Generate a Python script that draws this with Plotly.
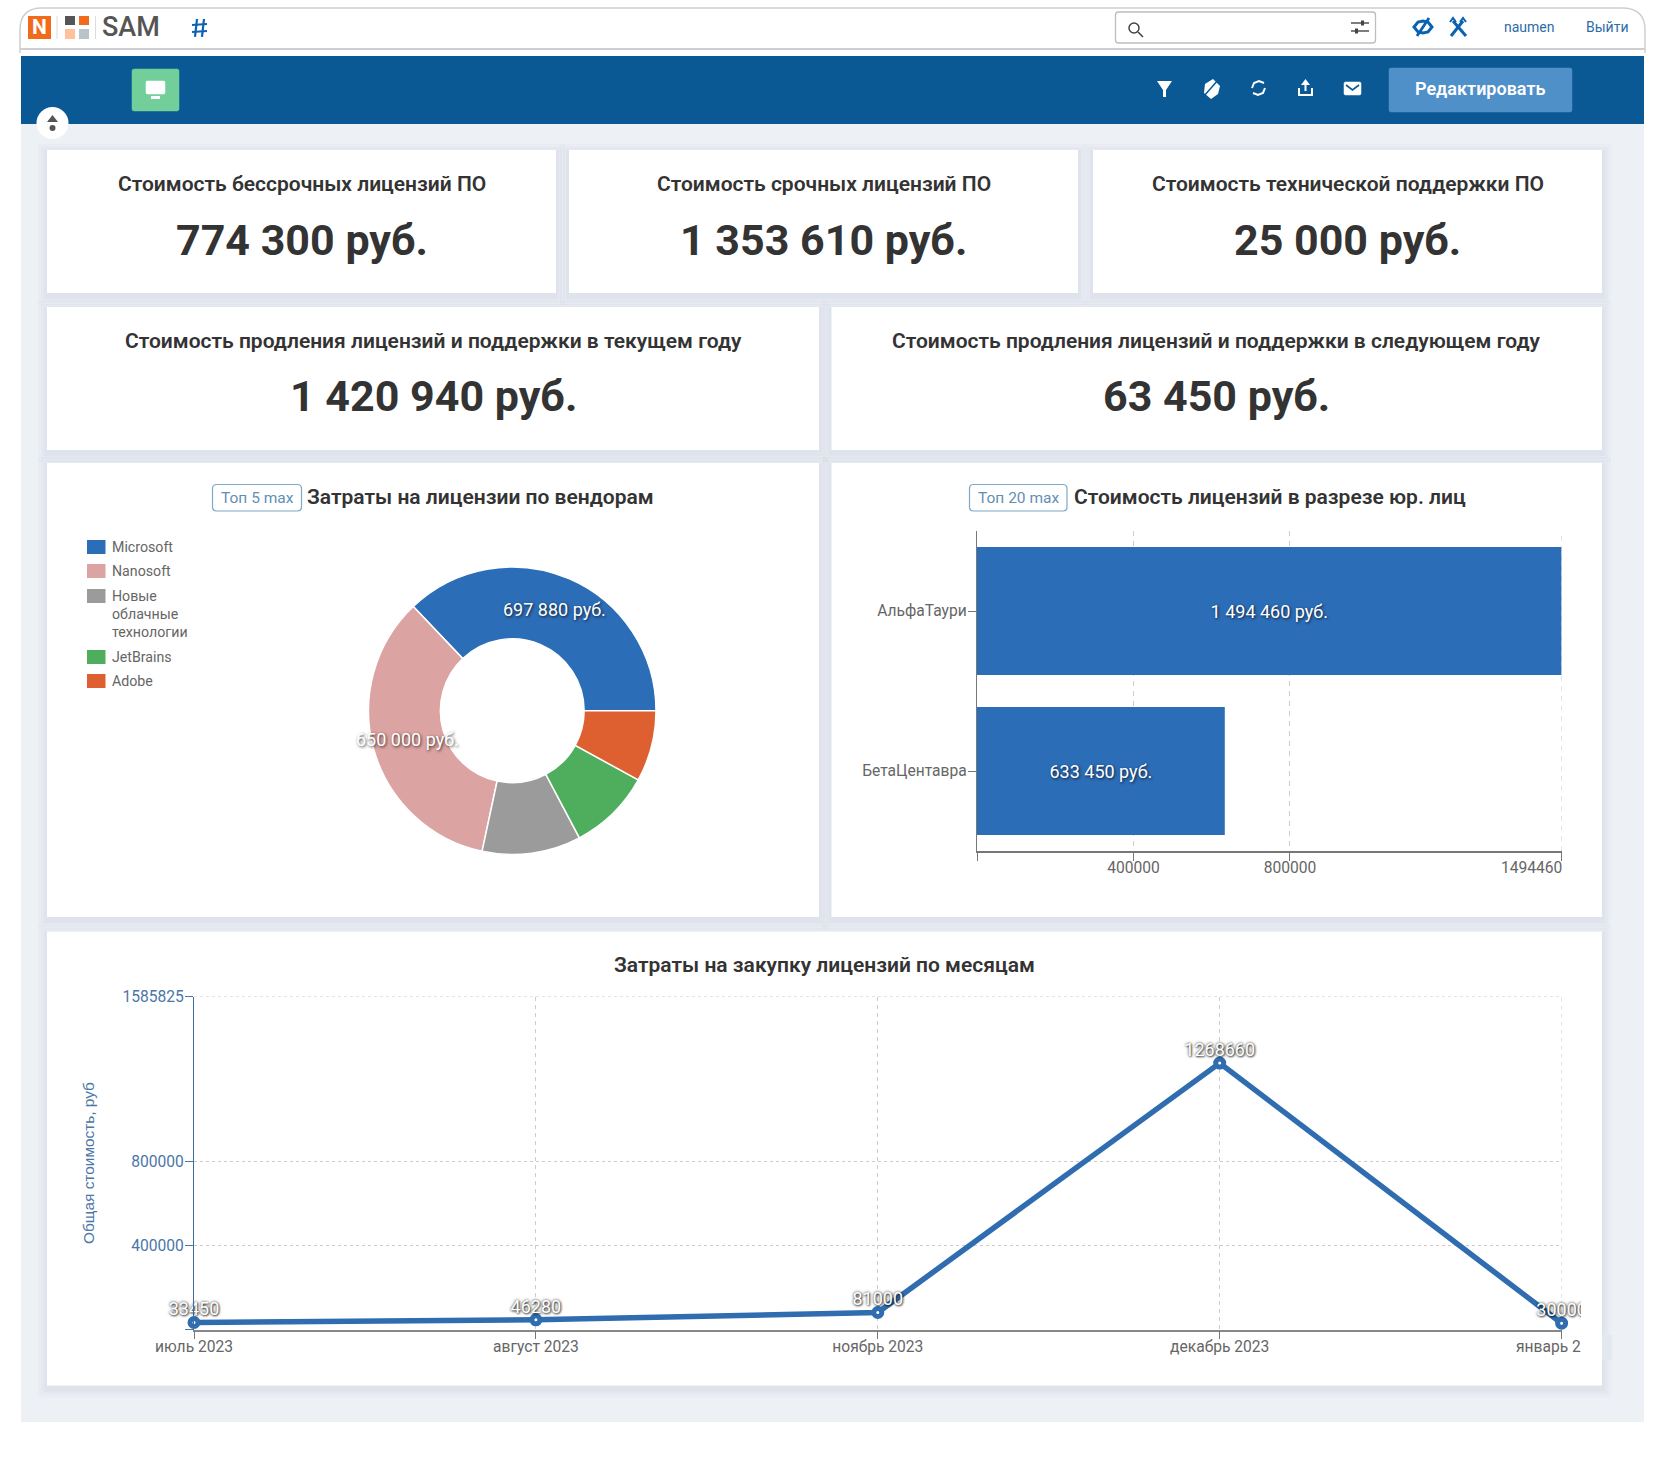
import plotly.graph_objects as go

# ---------- data ----------
kpi_row1_titles = ["Стоимость бессрочных лицензий ПО", "Стоимость срочных лицензий ПО", "Стоимость технической поддержки ПО"]
kpi_row1_values = [774300, 1353610, 25000]
kpi_row2_titles = ["Стоимость продления лицензий и поддержки в текущем году", "Стоимость продления лицензий и поддержки в следующем году"]
kpi_row2_values = [1420940, 63450]

vendors = ["Microsoft", "Nanosoft", "Новые облачные технологии", "JetBrains", "Adobe"]
vendor_costs = [697880, 650000, 209000, 174400, 150400]
vendor_colors = ["#2C6DB8", "#DBA3A1", "#9B9B9B", "#4FAE5E", "#DE5F30"]
vendor_legend_lines = [["Microsoft"], ["Nanosoft"], ["Новые", "облачные", "технологии"], ["JetBrains"], ["Adobe"]]

entities = ["АльфаТаури", "БетаЦентавра"]
entity_costs = [1494460, 633450]
entity_ticks = [0, 400000, 800000, 1494460]

months = ["июль 2023", "август 2023", "ноябрь 2023", "декабрь 2023", "январь 2024"]
month_costs = [33450, 46280, 81000, 1268660, 30000]
month_ticks = [0, 400000, 800000, 1585825]

W, H = 1665, 1464
FONT = "Roboto"
BLUE = "#2C6DB8"
DARK = "#333333"
GREY = "#666666"
STEEL = "#4A76A8"
BAND = "#0A5894"
BG = "#EDF1F6"
GRID = "#CCCCCC"


def X(p):
    return p / W


def Y(p):
    return 1 - p / H


def rub(v):
    return f"{v:,}".replace(",", " ") + " руб."


shapes = []
notes = []


def rect(x0, y0, x1, y1, fill, line=None, lw=0, layer="below"):
    shapes.append(dict(type="rect", xref="paper", yref="paper", x0=X(x0), x1=X(x1), y0=Y(y0), y1=Y(y1),
                       fillcolor=fill, line=dict(color=line or "rgba(0,0,0,0)", width=lw), layer=layer))


def circle(cx, cy, r, fill, line=None, lw=0):
    shapes.append(dict(type="circle", xref="paper", yref="paper", x0=X(cx - r), x1=X(cx + r), y0=Y(cy - r), y1=Y(cy + r),
                       fillcolor=fill, line=dict(color=line or "rgba(0,0,0,0)", width=lw), layer="below"))


def path(points, color=None, lw=1.5, fill=None, close=False):
    d = "M " + " L ".join(f"{X(a):.5f},{Y(b):.5f}" for a, b in points) + (" Z" if close else "")
    shapes.append(dict(type="path", xref="paper", yref="paper", path=d, fillcolor=fill or "rgba(0,0,0,0)",
                       line=dict(color=color or "rgba(0,0,0,0)", width=lw if color else 0), layer="below"))


def rounded(x0, y0, x1, y1, r, line, lw=1.2, fill="rgba(0,0,0,0)"):
    d = (f"M {X(x0 + r):.5f},{Y(y0):.5f} L {X(x1 - r):.5f},{Y(y0):.5f} Q {X(x1):.5f},{Y(y0):.5f} {X(x1):.5f},{Y(y0 + r):.5f} "
         f"L {X(x1):.5f},{Y(y1 - r):.5f} Q {X(x1):.5f},{Y(y1):.5f} {X(x1 - r):.5f},{Y(y1):.5f} "
         f"L {X(x0 + r):.5f},{Y(y1):.5f} Q {X(x0):.5f},{Y(y1):.5f} {X(x0):.5f},{Y(y1 - r):.5f} "
         f"L {X(x0):.5f},{Y(y0 + r):.5f} Q {X(x0):.5f},{Y(y0):.5f} {X(x0 + r):.5f},{Y(y0):.5f} Z")
    shapes.append(dict(type="path", xref="paper", yref="paper", path=d, fillcolor=fill,
                       line=dict(color=line, width=lw), layer="below"))


def text(t, x, y, size, color=DARK, weight=400, anchor="center", family=FONT, shadow=None, angle=0):
    f = dict(family=family, size=size, color=color, weight=weight)
    if shadow:
        f["shadow"] = shadow
    notes.append(dict(text=t, xref="paper", yref="paper", x=X(x), y=Y(y), xanchor=anchor, yanchor="middle",
                      showarrow=False, font=f, textangle=angle))


def card(x0, y0, x1, y1):
    for grow, alpha in ((9, 0.04), (6, 0.05), (3, 0.07)):
        rect(x0 - grow, y0 - grow + 3, x1 + grow, y1 + grow + 3, f"rgba(150,165,190,{alpha})")
    rect(x0, y0, x1, y1, "#FFFFFF")


# ---------- page frame ----------
rect(21, 124, 1644, 1422, BG)
rect(21, 56, 1644, 124, BAND)
d = (f"M {X(20):.5f},{Y(53):.5f} L {X(20):.5f},{Y(30):.5f} Q {X(20):.5f},{Y(8):.5f} {X(42):.5f},{Y(8):.5f} "
     f"L {X(1622):.5f},{Y(8):.5f} Q {X(1645):.5f},{Y(8):.5f} {X(1645):.5f},{Y(30):.5f} L {X(1645):.5f},{Y(53):.5f}")
shapes.append(dict(type="path", xref="paper", yref="paper", path=d, line=dict(color="#CFCFCF", width=1.5), layer="below"))
path([(20, 49), (1645, 49)], "#CFCFCF", 2)

# logos
rect(28, 16, 51, 39, "#F26A1B")
text("<b>N</b>", 39.5, 27.5, 21, "#FFFFFF")
path([(57, 16), (57, 39)], "#DDDDDD", 1)
rect(65, 16, 75, 25, "#555555")
rect(79, 16, 89, 25, "#F26A1B")
rect(65, 29, 75, 39, "#FFC09A")
rect(79, 29, 89, 39, "#B8C4C8")
path([(95.5, 16), (95.5, 39)], "#DDDDDD", 1)
text("SAM", 131, 27, 27, "#555555", 500)
path([(197, 19), (195, 37)], "#0A62B0", 2.2)
path([(204, 19), (202, 37)], "#0A62B0", 2.2)
path([(192, 25), (207, 24)], "#0A62B0", 2)
path([(192, 32), (207, 31)], "#0A62B0", 2)

# search box
rounded(1115.5, 12, 1375.5, 43, 3, "#BDBDBD", 1.3, "#FFFFFF")
circle(1134, 28, 5, "rgba(0,0,0,0)", "#444444", 1.5)
path([(1138, 32), (1143, 37)], "#444444", 1.6)
path([(1351, 23), (1369, 23)], "#444444", 1.4)
path([(1351, 31), (1369, 31)], "#444444", 1.4)
rect(1361, 20.5, 1364, 25.5, "#444444")
rect(1355, 28.5, 1358, 33.5, "#444444")

# header icons
path([(1414, 27), (1418, 22), (1423, 21), (1428, 22), (1432, 27), (1428, 32), (1423, 33), (1418, 32)], "#0A62B0", 3, close=True)
path([(1417, 36), (1429, 18)], "#0A62B0", 2.8)
path([(1453, 21), (1466, 36)], "#0A62B0", 3)
path([(1463, 21), (1451, 36)], "#0A62B0", 3)
path([(1450, 22), (1453, 18), (1456, 22)], "#0A62B0", 2)
path([(1460, 22), (1463, 18), (1466, 22)], "#0A62B0", 2)
text("naumen", 1529, 27.5, 14, "#2A6DA8")
text("Выйти", 1607, 27.5, 14, "#2A6DA8")

# band content
rounded(132, 69, 179, 111, 2, "#72CF99", 0.5, "#72CF99")
rounded(146, 81, 165, 94, 1.5, "#FFFFFF", 0.5, "#FFFFFF")
rect(151, 96, 160, 99, "#FFFFFF")
circle(52.5, 123, 16, "#FFFFFF")
path([(47, 122), (58, 122), (52.5, 115)], fill="#555555", close=True)
circle(52.5, 128, 3, "#555555")

path([(1157, 81), (1172, 81), (1166, 90), (1166, 97), (1163, 97), (1163, 90)], fill="#FFFFFF", close=True)
path([(1213, 79), (1220, 86), (1218, 94), (1211, 99), (1204, 93), (1205, 84)], fill="#FFFFFF", close=True)
path([(1204, 96), (1219, 79)], BAND, 1.5)
path([(1252, 88), (1254, 83), (1259, 81), (1264, 83)], "#FFFFFF", 2)
path([(1265, 88), (1263, 93), (1258, 95), (1253, 93)], "#FFFFFF", 2)
path([(1299, 88), (1299, 95), (1312, 95), (1312, 88)], "#FFFFFF", 2)
path([(1305.5, 91), (1305.5, 81)], "#FFFFFF", 2)
path([(1301, 85), (1310, 85), (1305.5, 79)], fill="#FFFFFF", close=True)
rounded(1344, 82, 1361, 95, 1.5, "#FFFFFF", 0.5, "#FFFFFF")
path([(1346, 85), (1352.5, 90), (1359, 85)], BAND, 1.6)
rounded(1389, 68, 1572, 112, 2, "#5090C8", 0.5, "#5090C8")
text("Редактировать", 1479.5, 89, 18, "#FFFFFF", 600)

# ---------- KPI cards ----------
row1_x = [(47, 556), (569, 1078), (1093, 1602)]
for (x0, x1), t, v in zip(row1_x, kpi_row1_titles, kpi_row1_values):
    card(x0, 150, x1, 293)
    text(t, (x0 + x1) / 2, 184, 21, DARK, 600)
    text(rub(v), (x0 + x1) / 2, 239.5, 43, DARK, 700)
row2_x = [(47, 819), (831.5, 1602)]
for (x0, x1), t, v in zip(row2_x, kpi_row2_titles, kpi_row2_values):
    card(x0, 307, x1, 450)
    text(t, (x0 + x1) / 2, 340.5, 21, DARK, 600)
    text(rub(v), (x0 + x1) / 2, 396, 43, DARK, 700)

# ---------- chart cards ----------
card(47, 463, 819, 917)
card(831.5, 463, 1602, 917)
card(47, 931.5, 1602, 1385.5)

rounded(212.5, 484.5, 301.5, 511, 4, "#7FA9C6", 1.2)
text("Топ 5 max", 257, 497.5, 15.5, "#5F8FB5")
text("Затраты на лицензии по вендорам", 481, 496.5, 21, DARK, 600)
rounded(969.5, 484.5, 1067, 511, 4, "#7FA9C6", 1.2)
text("Топ 20 max", 1018, 497.5, 15.5, "#5F8FB5")
text("Стоимость лицензий в разрезе юр. лиц", 1269.5, 496.5, 21, DARK, 600)
text("Затраты на закупку лицензий по месяцам", 824.5, 965, 21, DARK, 600)

# donut legend
legend_y = [547, 571, 596, 657, 681]
for color, lines, y0 in zip(vendor_colors, vendor_legend_lines, legend_y):
    rect(87, y0 - 7, 105.5, y0 + 7, color)
    for i, line in enumerate(lines):
        text(line, 110, y0 + i * 18.1, 14.2, GREY, anchor="left")

SHADOW = "1px 1px 3px rgba(0,0,0,0.75)"
text(rub(vendor_costs[0]), 554.5, 609.5, 18, "#FFFFFF", shadow=SHADOW)
text(rub(vendor_costs[1]), 407, 739, 18, "#FFFFFF", shadow=SHADOW)

# right end label of the bar axis (flush with the axis end)
notes.append(dict(text=str(entity_ticks[-1]), xref="x", yref="paper", x=entity_ticks[-1], y=Y(868), xanchor="right",
                  yanchor="middle", xshift=2, showarrow=False, font=dict(family=FONT, size=15.6, color=GREY)))

# gridlines on the axis ends, which plotly leaves out
shapes.append(dict(type="line", layer="below", xref="x", yref="y domain", x0=entity_ticks[-1], x1=entity_ticks[-1], y0=0, y1=1,
                   line=dict(color=GRID, width=1, dash="5px,5px")))
shapes.append(dict(type="line", layer="below", xref="x2", yref="y2 domain", x0=months[-1], x1=months[-1], y0=0, y1=1,
                   line=dict(color=GRID, width=1, dash="4px,4px")))
shapes.append(dict(type="line", layer="below", xref="x2 domain", yref="y2", x0=0, x1=1, y0=month_ticks[-1], y1=month_ticks[-1],
                   line=dict(color=GRID, width=1, dash="3px,3px")))

# ---------- traces ----------
fig = go.Figure()
# plotly lays the first slice clockwise of the start angle when counterclockwise, so shift it to begin at 3 o'clock
start_rotation = 90 - 360 * vendor_costs[0] / sum(vendor_costs)
fig.add_trace(go.Pie(labels=vendors, values=vendor_costs, hole=0.5, sort=False, direction="counterclockwise",
                     rotation=start_rotation,
                     marker=dict(colors=vendor_colors, line=dict(color="#FFFFFF", width=1.5)), textinfo="none",
                     domain=dict(x=[X(368.5), X(656)], y=[Y(855), Y(566.5)]), showlegend=False))

fig.add_trace(go.Bar(y=entities, x=entity_costs, orientation="h", marker=dict(color=BLUE), width=0.8,
                     text=[rub(v) for v in entity_costs], textposition="inside", insidetextanchor="middle",
                     constraintext="none", textangle=0,
                     textfont=dict(family=FONT, size=18, color="#FFFFFF", shadow=SHADOW),
                     xaxis="x", yaxis="y", showlegend=False))

fig.add_trace(go.Scatter(x=months, y=month_costs, mode="lines+markers", cliponaxis=False,
                         line=dict(color="#2F6DB0", width=5.5),
                         marker=dict(size=8, color="#FFFFFF", line=dict(color="#2F6DB0", width=5)),
                         xaxis="x2", yaxis="y2", showlegend=False))
fig.add_trace(go.Scatter(x=months, y=month_costs, mode="markers+text", text=[str(v) for v in month_costs],
                         textposition="top center", cliponaxis=False,
                         marker=dict(size=2.5, opacity=0),
                         textfont=dict(family=FONT, size=18, color="#FFFFFF",
                                       shadow="0 0 3px rgba(0,0,0,0.85), 1px 1px 2px rgba(0,0,0,0.6)"),
                         xaxis="x2", yaxis="y2", showlegend=False))

# the original chart clips the text at its right edge
rect(1581, 1295, 1602, 1360, "#FFFFFF", layer="above")
rect(1602, 1335, 1612, 1360, "#E4E8F0", layer="above")

tickfont = dict(family=FONT, size=15.6, color=GREY)
steelfont = dict(family=FONT, size=15.6, color=STEEL)
fig.update_layout(
    template="none",
    width=W, height=H, margin=dict(l=0, r=0, t=0, b=0, pad=0, autoexpand=False), paper_bgcolor="#FFFFFF", plot_bgcolor="rgba(0,0,0,0)",
    shapes=shapes, annotations=notes, showlegend=False, bargap=0.2,
    xaxis=dict(domain=[X(977), X(1561.6)], range=[0, entity_ticks[-1]], tickmode="array", tickvals=entity_ticks,
               ticktext=[""] + [str(v) for v in entity_ticks[1:-1]] + [""], ticks="outside", ticklen=8, tickcolor="#777777",
               showline=True, linecolor="#777777", linewidth=1.5, showgrid=True, gridcolor=GRID, griddash="5px,5px",
               zeroline=False, tickfont=tickfont, anchor="y", automargin=False, ticklabelstandoff=-6),
    yaxis=dict(domain=[Y(851), Y(531)], range=[1.5, -0.5], type="category", categoryorder="array", categoryarray=entities,
               ticks="outside", ticklen=8, tickcolor="#777777", showline=True, linecolor="#777777", linewidth=1.2,
               showgrid=False, zeroline=False, tickfont=tickfont, anchor="x", automargin=False, ticklabelstandoff=-2),
    xaxis2=dict(domain=[X(194), X(1561.6)], range=[0, 4], type="category", categoryorder="array", categoryarray=months,
                ticks="outside", ticklen=8, tickcolor="#777777", showline=True, linecolor="#888888", linewidth=1.5,
                showgrid=True, gridcolor=GRID, griddash="4px,4px", zeroline=False, tickfont=tickfont, anchor="y2",
                automargin=False, ticklabelstandoff=-6),
    yaxis2=dict(domain=[Y(1329.5), Y(996.5)], range=[0, month_ticks[-1]], tickmode="array", tickvals=month_ticks,
                ticktext=[""] + [str(v) for v in month_ticks[1:]], ticks="outside", ticklen=8, tickcolor=STEEL,
                showline=True, linecolor="#3F6C9E", linewidth=1.2, showgrid=True, gridcolor=GRID, griddash="3px,3px",
                zeroline=False, tickfont=steelfont, anchor="x2", automargin=False, ticklabelstandoff=-2,
                title=dict(text="Общая стоимость, руб", font=dict(family="Liberation Sans", size=15.4, color=STEEL), standoff=24)),
)

fig.write_html("out.html", config=dict(displayModeBar=False),
               post_script="document.body.style.margin='0';document.documentElement.style.overflow='hidden';")
